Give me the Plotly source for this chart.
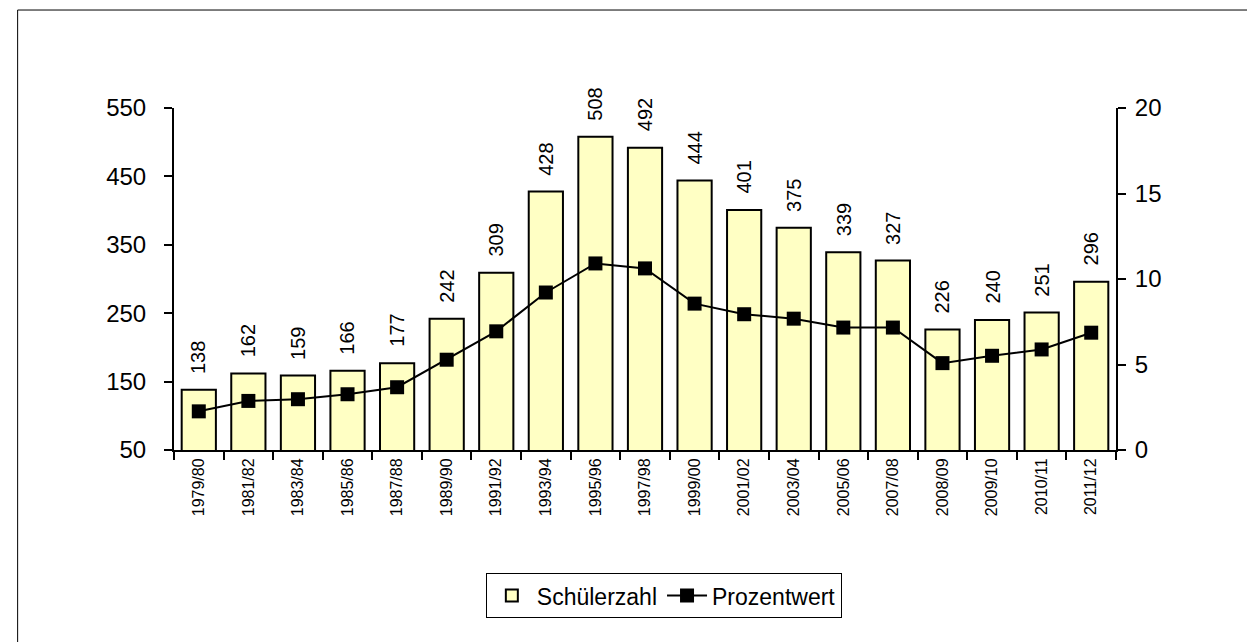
import plotly.graph_objects as go

years = ["1979/80", "1981/82", "1983/84", "1985/86", "1987/88", "1989/90", "1991/92",
         "1993/94", "1995/96", "1997/98", "1999/00", "2001/02", "2003/04", "2005/06",
         "2007/08", "2008/09", "2009/10", "2010/11", "2011/12"]
schueler = [138, 162, 159, 166, 177, 242, 309, 428, 508, 492, 444, 401, 375, 339,
            327, 226, 240, 251, 296]
prozent = [2.26, 2.87, 2.97, 3.26, 3.67, 5.28, 6.94, 9.21, 10.91, 10.62, 8.56, 7.94,
           7.68, 7.16, 7.16, 5.08, 5.51, 5.88, 6.86]

FONT = "Arial, Liberation Sans, sans-serif"

fig = go.Figure()
fig.add_trace(go.Bar(
    x=years, y=schueler, name="Schülerzahl",
    marker=dict(color="#FFFFC4", line=dict(color="black", width=2)),
))
fig.add_trace(go.Scatter(
    x=years, y=prozent, name="Prozentwert", yaxis="y2",
    mode="lines+markers",
    line=dict(color="black", width=2),
    marker=dict(symbol="square", size=14, color="black"),
))

# value labels above the bars, rotated
for yr, v in zip(years, schueler):
    fig.add_annotation(x=yr, y=v, text=str(v), textangle=-90, showarrow=False,
                       yanchor="bottom", yshift=14,
                       font=dict(family=FONT, size=20, color="black"))

axis_common = dict(showgrid=False, zeroline=False, linecolor="black", linewidth=2,
                   ticks="outside", ticklen=8, tickwidth=2, tickcolor="black")

fig.update_layout(
    width=1255, height=642,
    margin=dict(l=166, r=147, t=100, b=200),
    paper_bgcolor="white", plot_bgcolor="white",
    font=dict(family=FONT, color="black"),
    bargap=0.31,
    xaxis=dict(**axis_common, showline=True, tickson="boundaries", tickangle=-90,
               range=[-0.5, len(years) - 0.5], tickfont=dict(size=16)),
    yaxis=dict(**axis_common, showline=True, range=[50, 550], dtick=100, tick0=50,
               tickfont=dict(size=24), ticklabelstandoff=13),
    yaxis2=dict(**axis_common, showline=True, overlaying="y", side="right",
                range=[0, 20], dtick=5, tickfont=dict(size=24), ticklabelstandoff=4),
    # inner halves of the crossing tick marks
    yaxis3=dict(showgrid=False, zeroline=False, overlaying="y", side="left", anchor="x",
                range=[50, 550], dtick=100, tick0=50, ticks="inside", ticklen=8,
                tickwidth=2, tickcolor="black", showticklabels=False),
    yaxis4=dict(showgrid=False, zeroline=False, overlaying="y", side="right", anchor="x",
                range=[0, 20], dtick=5, ticks="inside", ticklen=8,
                tickwidth=2, tickcolor="black", showticklabels=False),
    xaxis2=dict(showgrid=False, zeroline=False, overlaying="x", side="bottom", anchor="y",
                range=[-0.5, len(years) - 0.5], tick0=-0.5, dtick=1, ticks="inside",
                ticklen=7, tickwidth=2, tickcolor="black", showticklabels=False),
    showlegend=True,
    legend=dict(orientation="h", x=0.52, xanchor="center", y=-0.36, yanchor="top",
                bordercolor="black", borderwidth=1, font=dict(size=23),
                itemwidth=40, traceorder="normal"),
    shapes=[dict(type="rect", xref="paper", yref="paper",
                 x0=-0.166, x1=1.2, y0=-0.7, y1=1.2865,
                 line=dict(color="black", width=1), fillcolor="rgba(0,0,0,0)",
                 layer="below")],
)

fig.write_html("out.html")
